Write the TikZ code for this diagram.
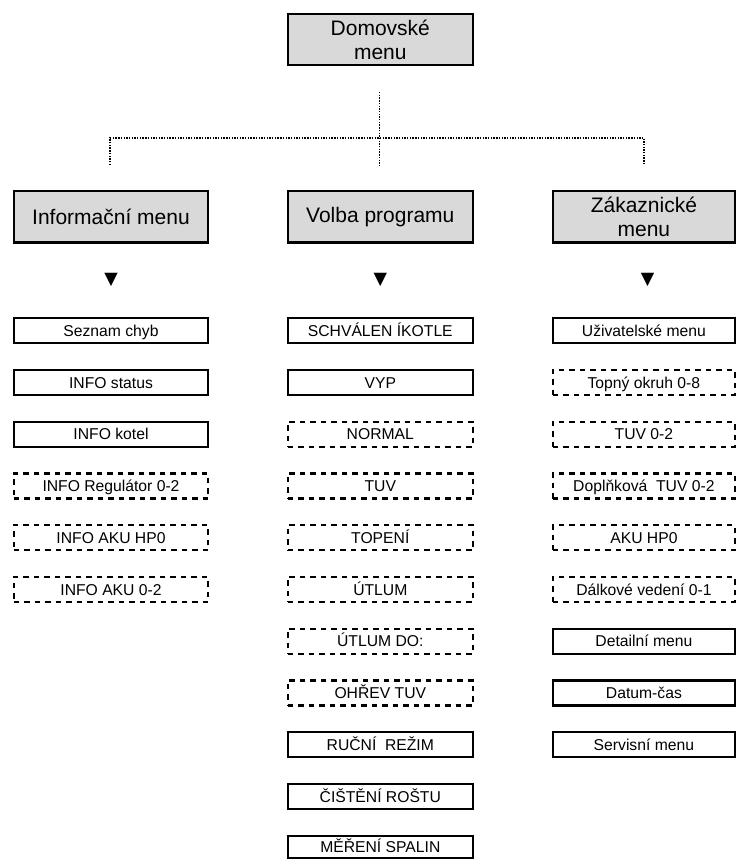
\documentclass[tikz,border=0pt]{standalone}
\usepackage{fontspec}
\setmainfont{Liberation Sans}
\newfontfamily\symfont{DejaVu Sans}
\definecolor{hdrgray}{RGB}{217,217,217}
\begin{document}
\begin{tikzpicture}[x=1pt,y=-1pt,
  hdr/.style={draw,line width=2.3pt,fill=hdrgray,font=\fontsize{21}{24}\selectfont,align=center,inner sep=0pt,minimum height=51.3pt},
  itm/.style={draw,line width=2.3pt,font=\fontsize{15.7}{18}\selectfont,inner sep=0pt,minimum height=25pt,text height=11.2pt,text depth=0pt},
  dsh/.style={itm,dash pattern=on 5.5pt off 5pt},
  lcol/.style={minimum width=194.6pt},
  mcol/.style={minimum width=185.3pt},
  rcol/.style={minimum width=182.3pt},
  dotl/.style={line width=1.6pt,dash pattern=on 1.4pt off 1.3pt},
  tri/.style={font=\symfont\fontsize{17.5}{17.5}\selectfont,inner sep=0pt}]
\useasboundingbox (0,0) rectangle (736,859);

% top
\node[hdr,minimum width=185.3pt,minimum height=50.7pt] (home) at (380.3,39.7) {Domovské\\menu};

% connectors
\coordinate (ctop) at (379.3,92);
\coordinate (cmid) at (379.3,138);
\coordinate (cbot) at (379.3,165);
\coordinate (lt) at (110,138);
\coordinate (lb) at (110,165);
\coordinate (rt) at (644,138);
\coordinate (rb) at (644,165);
\draw[dotl] (ctop) -- (cbot);
\draw[dotl] (lb) -- (lt) -- (rt) -- (rb);

% headers
\node[hdr,lcol,minimum height=51.3pt] (hinfo) at (111,216.7) {Informační menu};
\node[hdr,mcol,minimum height=51.3pt] (hvolba) at (380.3,216.7) {Volba programu};
\node[hdr,rcol,minimum height=51.3pt] (hzak) at (643.9,216.7) {Zákaznické\\menu};

% triangles
\node[tri] (t1) at (111,280) {▼};
\node[tri] (t2) at (380.3,280) {▼};
\node[tri] (t3) at (647.7,280) {▼};

% left column
\node[itm,lcol] (l1) at (111,330.8) {Seznam chyb};
\node[itm,lcol] (l2) at (111,382.55) {INFO status};
\node[itm,lcol] (l3) at (111,434.3) {INFO kotel};
\node[dsh,lcol] (l4) at (111,486.05) {INFO Regulátor 0-2};
\node[dsh,lcol] (l5) at (111,537.8) {INFO AKU HP0};
\node[dsh,lcol] (l6) at (111,589.55) {INFO AKU 0-2};

% middle column
\node[itm,mcol] (m1) at (380.3,330.8) {SCHVÁLEN ÍKOTLE};
\node[itm,mcol] (m2) at (380.3,382.55) {VYP};
\node[dsh,mcol] (m3) at (380.3,434.3) {NORMAL};
\node[dsh,mcol] (m4) at (380.3,486.05) {TUV};
\node[dsh,mcol] (m5) at (380.3,537.8) {TOPENÍ};
\node[dsh,mcol] (m6) at (380.3,589.55) {ÚTLUM};
\node[dsh,mcol] (m7) at (380.3,641.3) {ÚTLUM DO:};
\node[dsh,mcol] (m8) at (380.3,693.05) {OHŘEV TUV};
\node[itm,mcol] (m9) at (380.3,744.8) {RUČNÍ\ \ REŽIM};
\node[itm,mcol] (m10) at (380.3,796.55) {ČIŠTĚNÍ ROŠTU};
\node[itm,mcol,minimum height=22pt] (m11) at (380.3,847) {MĚŘENÍ SPALIN};

% right column
\node[itm,rcol] (r1) at (643.9,330.8) {Uživatelské menu};
\node[dsh,rcol] (r2) at (643.9,382.55) {Topný okruh 0-8};
\node[dsh,rcol] (r3) at (643.9,434.3) {TUV 0-2};
\node[dsh,rcol] (r4) at (643.9,486.05) {Doplňková\ \ TUV 0-2};
\node[dsh,rcol] (r5) at (643.9,537.8) {AKU HP0};
\node[dsh,rcol] (r6) at (643.9,589.55) {Dálkové vedení 0-1};
\node[itm,rcol] (r7) at (643.9,641.3) {Detailní menu};
\node[itm,rcol] (r8) at (643.9,693.05) {Datum-čas};
\node[itm,rcol] (r9) at (643.9,744.8) {Servisní menu};
\end{tikzpicture}
\end{document}
